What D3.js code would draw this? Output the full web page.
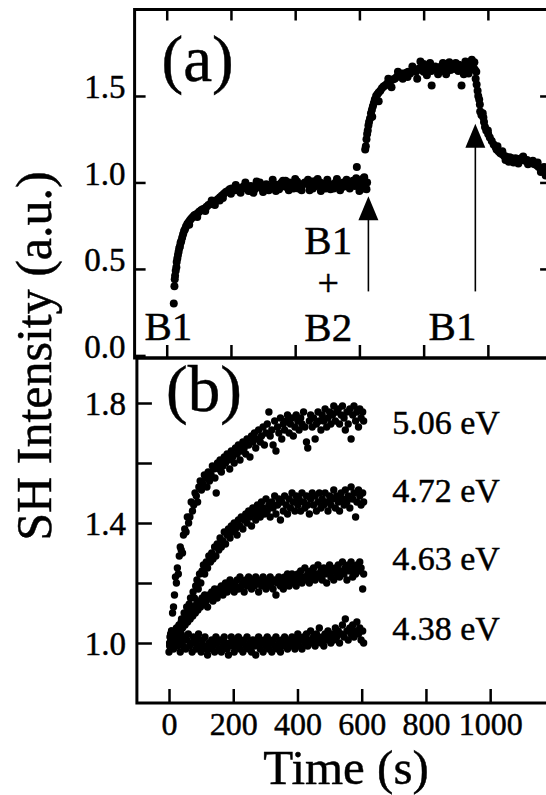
<!DOCTYPE html>
<html>
<head>
<meta charset="utf-8">
<script src="https://cdn.jsdelivr.net/npm/d3@7"></script>
<style>
  html, body { margin: 0; padding: 0; background: #fff; }
  svg { display: block; }
  text { font-family: "Liberation Serif", "Times New Roman", serif; fill: #000; stroke: #000; stroke-width: 0.45px; }
</style>
</head>
<body>
<svg id="chart" width="546" height="795"></svg>
<script>
// ---------- Panel (a): SH intensity while the buffer is exchanged ----------
// [time (s), SH intensity (a.u.)]
const riseB1 = [
  [22,0.30],[24,0.40],[25,0.44],[26,0.46],[28,0.49],[30,0.51],[31,0.54],[33,0.56],[35,0.58],[37,0.60],
  [39,0.62],[41,0.63],[43,0.65],[45,0.66],[48,0.68],[51,0.70],[54,0.72],[57,0.73],[60,0.745],[64,0.76],
  [68,0.77],[72,0.78],[76,0.79],[81,0.80],[86,0.81],[91,0.815],[96,0.82],[101,0.83],[107,0.84],[112,0.845],
  [118,0.85],[124,0.86],[130,0.87],[136,0.875],[142,0.88],[148,0.89],[154,0.895],[160,0.905],[166,0.915],[172,0.925],
  [178,0.935],[184,0.945],[190,0.95],[196,0.96],[202,0.965],[208,0.96],[214,0.955],[220,0.97],[226,0.965],[232,0.96],
  [238,0.975],[244,0.97],[250,0.965],[256,0.975],[262,0.98],[268,0.97],[274,0.96],[280,0.975],[286,0.985],[292,0.97],
  [298,0.965],[304,0.98],[310,0.99],[316,0.975],[322,0.965],[328,0.98],[334,0.99],[340,0.985],[346,0.975],[352,0.99],
  [358,1.0],[364,0.985],[370,0.975],[376,0.99],[382,1.0],[388,0.99],[394,0.98],[400,0.995],[406,1.005],[412,0.99],
  [418,0.975],[424,0.99],[430,1.0],[436,0.995],[442,0.985],[448,1.0],[454,1.005],[460,0.99],[466,0.98],[472,0.995],
  [478,1.0],[484,0.99],[490,0.975],[496,0.995],[502,1.0],[508,0.985],[514,0.975],[520,0.99],[526,1.0],[532,0.995],
  [538,0.98],[544,0.99],[550,1.0],[556,0.995],[562,0.985],[568,0.99],[574,1.0],[580,0.99],[586,0.98],[592,1.09],
  [594,1.0],[600,0.985],[606,0.995],[610,1.02],[614,0.99],[618,0.975],[622,0.96],[624,1.0],
  [120,0.835],[150,0.87],[175,0.91],[200,0.935],[230,0.94],[255,0.95],[270,0.94],[300,0.945],[340,0.95],[380,0.955],
  [420,0.955],[455,0.965],[480,0.95],[510,0.96],[540,0.955],[570,0.965],[600,0.95],[245,1.0],[280,1.005],[330,1.015],
  [370,1.01],[400,1.02],[440,1.015],[470,1.02],[500,1.015],[530,1.02],[560,1.015],[590,1.025],[615,1.03],
  [70,0.755],[95,0.80],[140,0.895],[165,0.895],[215,0.985],[262,0.95],[318,0.955],[362,1.01],[410,0.965],[465,1.01],
  [520,0.965],[580,1.01],[612,0.965],[290,1.0],[350,0.96],[395,0.965],[445,0.955],[495,0.965],[550,0.975],[605,1.005]
];

const riseB1B2 = [
  [618,1.19],[620,1.21],[622,1.25],[624,1.28],[626,1.30],[628,1.33],[630,1.35],[633,1.37],[636,1.40],[639,1.42],
  [642,1.44],[645,1.46],[648,1.48],[652,1.50],[656,1.51],[660,1.52],[665,1.53],[670,1.545],[675,1.555],[680,1.56],
  [686,1.57],[692,1.58],[698,1.59],[704,1.595],[710,1.60],[716,1.61],[722,1.615],[728,1.62],[734,1.63],[740,1.625],
  [746,1.635],[752,1.64],[758,1.63],[764,1.645],[770,1.65],[776,1.64],[782,1.655],[788,1.66],[794,1.65],[800,1.64],
  [806,1.66],[812,1.67],[818,1.655],[824,1.645],[830,1.66],[836,1.67],[842,1.65],[848,1.66],[854,1.67],[860,1.655],
  [866,1.645],[872,1.66],[878,1.665],[884,1.65],[890,1.66],[896,1.67],[902,1.655],[908,1.645],[914,1.66],[920,1.67],
  [926,1.66],[932,1.65],[938,1.665],[944,1.68],[950,1.675],[956,1.66],[960,1.65],[964,1.64],
  [790,1.70],[800,1.685],[860,1.69],[930,1.70],[950,1.71],[825,1.56],[918,1.56],[780,1.60],[700,1.55],[660,1.47],
  [640,1.38],[720,1.64],[750,1.61],[810,1.62],[870,1.625],[900,1.69],[940,1.63],[958,1.695],
  [690,1.60],[735,1.60],[765,1.67],[820,1.69],[845,1.625],[880,1.695],[910,1.68],[925,1.625]
];

const decayB1 = [
  [962,1.60],[965,1.567],[968,1.53],[970,1.50],[973,1.48],[975,1.45],[976,1.41],[980,1.39],[986,1.375],[988,1.35],
  [991,1.32],[995,1.30],[1001,1.28],[1006,1.26],[1012,1.24],[1018,1.22],[1024,1.205],[1027,1.19],[1033,1.18],[1038,1.17],
  [1043,1.165],[1050,1.155],[1056,1.15],[1062,1.14],[1068,1.145],[1074,1.14],[1080,1.135],[1086,1.14],[1092,1.13],[1098,1.135],
  [1104,1.14],[1110,1.13],[1116,1.125],[1122,1.13],[1128,1.12],[1134,1.115],[1140,1.11],[1146,1.105],[1152,1.10],[1158,1.09],
  [1164,1.085],[1170,1.075],[1176,1.065],[1182,1.055],
  [1030,1.21],[1045,1.18],[1055,1.13],[1065,1.12],[1080,1.115],[1095,1.11],[1110,1.15],[1125,1.105],[1140,1.125],[1155,1.115],
  [1165,1.06],[1175,1.09],[1180,1.04],[1000,1.30],[984,1.40]
];

// buffer-change markers: time, arrow tip, arrow tail
const arrowTimes = [628, 961];
const arrowTips  = [0.92, 1.34];
const arrowTails = [0.37, 0.37];

// ---------- Panel (b): SH rise for several photon energies ----------
const energyLabels = ["5.06 eV", "4.72 eV", "4.63 eV", "4.38 eV"];

const series506 = [
  [2,1.00],[5,1.03],[8,1.04],[11,1.10],[14,1.12],[17,1.16],[20,1.22],[23,1.20],[26,1.25],[29,1.23],
  [32,1.29],[35,1.32],[38,1.31],[42,1.30],[45,1.36],[49,1.38],[53,1.37],[57,1.42],[61,1.40],[65,1.42],
  [69,1.47],[73,1.44],[77,1.46],[81,1.50],[85,1.49],[89,1.47],[93,1.52],[97,1.54],[101,1.51],[106,1.53],
  [110,1.56],[114,1.55],[118,1.52],[122,1.57],[126,1.54],[131,1.56],[135,1.59],[139,1.58],[143,1.55],[147,1.50],
  [151,1.60],[155,1.58],[159,1.61],[163,1.57],[168,1.59],[172,1.62],[176,1.60],[181,1.63],[185,1.61],[189,1.58],
  [194,1.64],[198,1.62],[203,1.60],[207,1.65],[212,1.63],[216,1.66],[221,1.61],[225,1.64],[230,1.67],[234,1.65],
  [239,1.63],[243,1.68],[248,1.66],[252,1.62],[257,1.69],[261,1.67],[266,1.70],[270,1.65],[275,1.68],[279,1.71],
  [284,1.67],[288,1.69],[293,1.72],[297,1.66],[302,1.70],[306,1.73],[311,1.77],[315,1.69],[320,1.71],[324,1.66],
  [329,1.74],[333,1.64],[338,1.72],[342,1.70],[347,1.75],[351,1.68],[356,1.73],[360,1.71],[365,1.74],[369,1.76],
  [374,1.70],[378,1.73],[383,1.75],[387,1.69],[392,1.72],[396,1.76],[401,1.74],[405,1.71],[410,1.75],[414,1.73],
  [419,1.77],[423,1.72],[428,1.67],[432,1.65],[437,1.74],[441,1.76],[446,1.72],[450,1.75],[455,1.68],[459,1.73],
  [464,1.77],[468,1.74],[473,1.71],[477,1.76],[482,1.74],[486,1.78],[491,1.72],[495,1.75],[500,1.77],[504,1.73],
  [509,1.76],[513,1.79],[518,1.74],[522,1.77],[527,1.78],[531,1.73],[536,1.76],[540,1.79],[545,1.75],[549,1.71],
  [554,1.77],[558,1.73],[563,1.78],[567,1.68],[572,1.76],[576,1.79],[581,1.74],[585,1.77],[590,1.72],[594,1.78],
  [598,1.75],[603,1.77],[606,1.74]
];

const series472 = [
  [3,1.00],[7,1.02],[11,0.99],[15,1.03],[19,1.01],[23,1.04],[27,1.03],[31,1.06],[35,1.04],[39,1.08],
  [43,1.07],[47,1.10],[51,1.08],[55,1.12],[59,1.10],[63,1.13],[67,1.15],[71,1.12],[75,1.17],[79,1.15],
  [83,1.19],[87,1.21],[91,1.18],[95,1.23],[99,1.20],[103,1.24],[107,1.26],[111,1.23],[116,1.27],[120,1.25],
  [124,1.29],[129,1.27],[133,1.30],[137,1.28],[142,1.32],[146,1.29],[150,1.33],[155,1.31],[159,1.35],[163,1.32],
  [168,1.34],[172,1.37],[176,1.33],[181,1.36],[185,1.38],[190,1.35],[194,1.39],[198,1.37],[203,1.40],[207,1.38],
  [212,1.36],[216,1.41],[221,1.39],[225,1.42],[230,1.38],[234,1.41],[239,1.43],[243,1.40],[248,1.44],[252,1.42],
  [257,1.39],[261,1.45],[266,1.43],[270,1.41],[275,1.46],[279,1.44],[284,1.42],[288,1.47],[293,1.45],[297,1.43],
  [302,1.48],[306,1.44],[311,1.46],[315,1.42],[320,1.47],[324,1.45],[329,1.49],[333,1.43],[338,1.46],[342,1.48],
  [347,1.41],[351,1.47],[356,1.44],[360,1.49],[365,1.46],[369,1.43],[374,1.48],[378,1.45],[383,1.50],[387,1.47],
  [392,1.44],[396,1.49],[401,1.46],[405,1.48],[410,1.44],[414,1.50],[419,1.47],[423,1.45],[428,1.49],[432,1.46],
  [437,1.43],[441,1.48],[446,1.50],[450,1.46],[455,1.49],[459,1.44],[464,1.47],[468,1.50],[473,1.45],[477,1.48],
  [482,1.46],[486,1.50],[491,1.47],[495,1.44],[500,1.49],[504,1.46],[509,1.48],[513,1.51],[518,1.45],[522,1.49],
  [527,1.47],[531,1.44],[536,1.50],[540,1.48],[545,1.46],[549,1.51],[554,1.47],[558,1.49],[563,1.45],[567,1.52],
  [572,1.48],[576,1.50],[581,1.42],[585,1.47],[590,1.51],[594,1.49],[598,1.46],[603,1.50],[606,1.47]
];

const series463 = [
  [2,0.99],[6,1.01],[10,1.00],[14,1.03],[18,1.01],[22,1.02],[26,1.05],[30,1.03],[34,1.04],[38,1.07],
  [42,1.05],[46,1.08],[50,1.06],[54,1.09],[58,1.07],[62,1.10],[66,1.08],[70,1.11],[74,1.09],[78,1.12],
  [82,1.10],[86,1.13],[90,1.11],[94,1.14],[98,1.12],[103,1.15],[107,1.13],[111,1.16],[116,1.14],[120,1.12],
  [124,1.16],[129,1.15],[133,1.17],[137,1.14],[142,1.18],[146,1.16],[150,1.15],[155,1.18],[159,1.17],[163,1.19],
  [168,1.16],[172,1.18],[176,1.20],[181,1.17],[185,1.19],[190,1.21],[194,1.18],[198,1.20],[203,1.17],[207,1.19],
  [212,1.21],[216,1.18],[221,1.22],[225,1.19],[230,1.20],[234,1.17],[239,1.21],[243,1.19],[248,1.22],[252,1.20],
  [257,1.18],[261,1.21],[266,1.19],[270,1.22],[275,1.20],[279,1.17],[284,1.21],[288,1.19],[293,1.22],[297,1.20],
  [302,1.18],[306,1.21],[311,1.19],[315,1.22],[320,1.20],[324,1.18],[329,1.21],[333,1.16],[338,1.20],[342,1.22],
  [347,1.19],[351,1.21],[356,1.18],[360,1.22],[365,1.20],[369,1.23],[374,1.19],[378,1.21],[383,1.23],[387,1.20],
  [392,1.22],[396,1.19],[401,1.23],[405,1.21],[410,1.24],[414,1.20],[419,1.22],[423,1.25],[428,1.21],[432,1.23],
  [437,1.20],[441,1.24],[446,1.22],[450,1.25],[455,1.21],[459,1.23],[464,1.26],[468,1.22],[473,1.24],[477,1.21],
  [482,1.25],[486,1.23],[491,1.20],[495,1.24],[500,1.26],[504,1.22],[509,1.24],[513,1.21],[518,1.25],[522,1.23],
  [527,1.26],[531,1.22],[536,1.24],[540,1.27],[545,1.23],[549,1.25],[554,1.21],[558,1.26],[563,1.24],[567,1.27],
  [572,1.22],[576,1.25],[581,1.23],[585,1.26],[590,1.24],[594,1.27],[598,1.25],[603,1.18],[606,1.23]
];

const series438 = [
  [0,0.97],[3,1.02],[5,0.99],[8,1.04],[11,1.00],[14,0.98],[17,1.03],[20,1.01],[23,1.05],[26,0.99],
  [29,1.02],[32,1.00],[35,0.97],[38,1.03],[41,1.01],[44,0.99],[48,1.02],[52,0.98],[56,1.01],[60,1.03],
  [64,0.99],[68,1.00],[72,0.97],[76,1.02],[80,1.00],[84,0.98],[88,1.01],[92,1.03],[96,0.99],[100,0.97],
  [104,1.01],[108,0.99],[112,1.02],[116,0.98],[120,0.96],[124,1.00],[129,0.98],[133,1.01],[137,0.99],[142,0.97],
  [146,1.02],[150,1.00],[155,0.98],[159,1.01],[163,0.97],[168,0.99],[172,1.02],[176,1.00],[181,0.98],[185,0.96],
  [190,1.00],[194,1.02],[198,0.99],[203,0.97],[207,1.01],[212,0.99],[216,1.02],[221,0.98],[225,1.00],[230,0.97],
  [234,1.01],[239,0.99],[243,1.02],[248,0.98],[252,1.00],[257,0.97],[261,1.01],[266,0.99],[270,0.96],[275,1.00],
  [279,1.02],[284,0.98],[288,1.00],[293,0.97],[297,1.01],[302,0.99],[306,1.02],[311,0.98],[315,1.00],[320,0.97],
  [324,1.01],[329,0.99],[333,1.02],[338,0.98],[342,1.00],[347,0.97],[351,1.01],[356,0.99],[360,1.02],[365,1.00],
  [369,0.98],[374,1.01],[378,0.99],[383,1.02],[387,1.00],[392,0.98],[396,1.01],[401,1.03],[405,0.99],[410,1.01],
  [414,0.98],[419,1.02],[423,1.00],[428,1.03],[432,0.99],[437,1.01],[441,1.04],[446,1.00],[450,1.02],[455,0.99],
  [459,1.03],[464,1.01],[468,1.05],[473,1.00],[477,1.02],[482,0.99],[486,1.03],[491,1.01],[495,1.04],[500,1.02],
  [504,1.00],[509,1.03],[513,1.01],[518,1.05],[522,1.02],[527,1.04],[531,1.00],[536,1.03],[540,1.06],[545,1.02],
  [549,1.08],[554,1.04],[558,1.01],[563,1.05],[567,1.03],[572,1.06],[576,1.02],[581,1.04],[585,1.07],[590,1.03],
  [594,1.05],[598,1.01],[603,1.04],[606,1.00]
];

// axis ticks
const timeTicks = [0, 200, 400, 600, 800, 1000];
const ticksA = [0.0, 0.5, 1.0, 1.5];
const ticksB = [1.0, 1.2, 1.4, 1.6, 1.8];
const labelTicksB = [1.0, 1.4, 1.8];

// ---------------------------------------------------------------------
const svg = d3.select("#chart");
svg.append("rect").attr("width", 546).attr("height", 795).attr("fill", "#fff");

const SERIF = '"Liberation Serif", "Times New Roman", serif';

// scales
const xA = d3.scaleLinear().domain([-100, 1200]).range([134.6, 552.1]);
const yA = d3.scaleLinear().domain([-0.015, 2.0]).range([358, 9.5]);
const xB = d3.scaleLinear().domain([-100, 1200]).range([136.9, 554.4]);
const yB = d3.scaleLinear().domain([0.8, 1.95]).range([703, 358]);

function styleAxis(g, width) {
  g.select(".domain").remove();
  g.selectAll(".tick line").attr("stroke", "#000").attr("stroke-width", width);
  g.selectAll(".tick text").attr("fill", "#000").style("font-family", SERIF);
}

// ---------- panel (a) axes ----------
const gA = svg.append("g");
gA.append("g").attr("transform", `translate(${xA(-100)},0)`)
  .call(d3.axisLeft(yA).tickValues(ticksA).tickSizeInner(-11).tickSizeOuter(0)
        .tickPadding(9).tickFormat(d3.format(".1f")))
  .call(g => styleAxis(g, 2.5))
  .call(g => g.selectAll(".tick text").attr("dy", "0.06em").style("font-size", "33px"));

gA.append("g").attr("transform", `translate(0,${yA(2.0)})`)
  .call(d3.axisTop(xA).tickValues(timeTicks).tickSizeInner(-11).tickSizeOuter(0).tickFormat(""))
  .call(g => styleAxis(g, 2.5));

gA.append("g").attr("transform", `translate(0,${yA(-0.015)})`)
  .call(d3.axisBottom(xA).tickValues(timeTicks).tickSizeInner(-13).tickSizeOuter(0).tickFormat(""))
  .call(g => styleAxis(g, 2.5));

gA.append("g").attr("transform", `translate(${xA(1200)},0)`)
  .call(d3.axisRight(yA).tickValues(ticksA.slice(1)).tickSizeInner(-12).tickSizeOuter(0).tickFormat(""))
  .call(g => styleAxis(g, 2.5));

// frame of panel (a)
svg.append("rect")
  .attr("x", xA(-100)).attr("y", yA(2.0))
  .attr("width", xA(1200) - xA(-100)).attr("height", yA(-0.015) - yA(2.0))
  .attr("fill", "none").attr("stroke", "#000").attr("stroke-width", 3);

// ---------- panel (b) axes ----------
const gB = svg.append("g");
gB.append("g").attr("transform", `translate(${xB(-100)},0)`)
  .call(d3.axisLeft(yB).tickValues(ticksB).tickSizeInner(-15).tickSizeOuter(0)
        .tickPadding(11).tickFormat(d => labelTicksB.includes(d) ? d3.format(".1f")(d) : ""))
  .call(g => styleAxis(g, 2.5))
  .call(g => g.selectAll(".tick text").attr("dy", "0.35em").style("font-size", "33px"));

gB.append("g").attr("transform", `translate(0,${yB(0.8)})`)
  .call(d3.axisBottom(xB).tickValues(timeTicks).tickSizeInner(-14).tickSizeOuter(0)
        .tickPadding(0).tickFormat(d3.format("d")))
  .call(g => styleAxis(g, 2.5))
  .call(g => g.selectAll(".tick text").attr("y", 32).attr("dy", 0).style("font-size", "32px"));

svg.append("rect")
  .attr("x", xB(-100)).attr("y", yB(1.95))
  .attr("width", xB(1200) - xB(-100)).attr("height", yB(0.8) - yB(1.95))
  .attr("fill", "none").attr("stroke", "#000").attr("stroke-width", 3);

// ---------- data points ----------
const dotsA = [].concat(riseB1, riseB1B2, decayB1);
svg.append("g").selectAll("circle").data(dotsA).join("circle")
  .attr("cx", d => xA(d[0])).attr("cy", d => yA(d[1])).attr("r", 4).attr("fill", "#000");

const seriesB = [series506, series472, series463, series438];
svg.append("g").selectAll("g").data(seriesB).join("g")
  .selectAll("circle").data(d => d).join("circle")
  .attr("cx", d => xB(d[0])).attr("cy", d => yB(d[1])).attr("r", 3.7).attr("fill", "#000");

// ---------- arrows marking buffer changes ----------
const arrowG = svg.append("g");
arrowTimes.forEach((t, i) => {
  const x = xA(t), tip = yA(arrowTips[i]), tail = yA(arrowTails[i]);
  arrowG.append("line").attr("x1", x).attr("x2", x).attr("y1", tail).attr("y2", tip + 20)
    .attr("stroke", "#000").attr("stroke-width", 1.6);
  arrowG.append("path")
    .attr("d", `M${x},${tip} L${x - 10},${tip + 24} L${x + 10},${tip + 24} Z`)
    .attr("fill", "#000");
});

// ---------- annotations ----------
const ann = svg.append("g").attr("text-anchor", "middle").style("font-size", "41px");
ann.append("text").attr("x", xA(5)).attr("y", 340).text("B1");
ann.append("text").attr("x", xA(503)).attr("y", 254).text("B1");
ann.append("text").attr("x", xA(503)).attr("y", 296).style("font-size", "38px").text("+");
ann.append("text").attr("x", xA(503)).attr("y", 341).text("B2");
ann.append("text").attr("x", xA(890)).attr("y", 340).text("B1");

svg.append("text").attr("x", 161.5).attr("y", 81).style("font-size", "65px").text("(a)");
svg.append("text").attr("x", 166).attr("y", 411).style("font-size", "65px").text("(b)");

const labelLevels = [1.697, 1.47, 1.243, 1.01];
svg.append("g").style("font-size", "34px").selectAll("text").data(energyLabels).join("text")
  .attr("x", xB(695)).attr("y", (d, i) => yB(labelLevels[i])).text(d => d);

// axis titles
svg.append("text").attr("x", 346).attr("y", 784).attr("text-anchor", "middle")
  .style("font-size", "49px").text("Time (s)");
svg.append("text").attr("transform", "translate(51,356) rotate(-90)").attr("text-anchor", "middle")
  .style("font-size", "50px").text("SH Intensity (a.u.)");
</script>
</body>
</html>
